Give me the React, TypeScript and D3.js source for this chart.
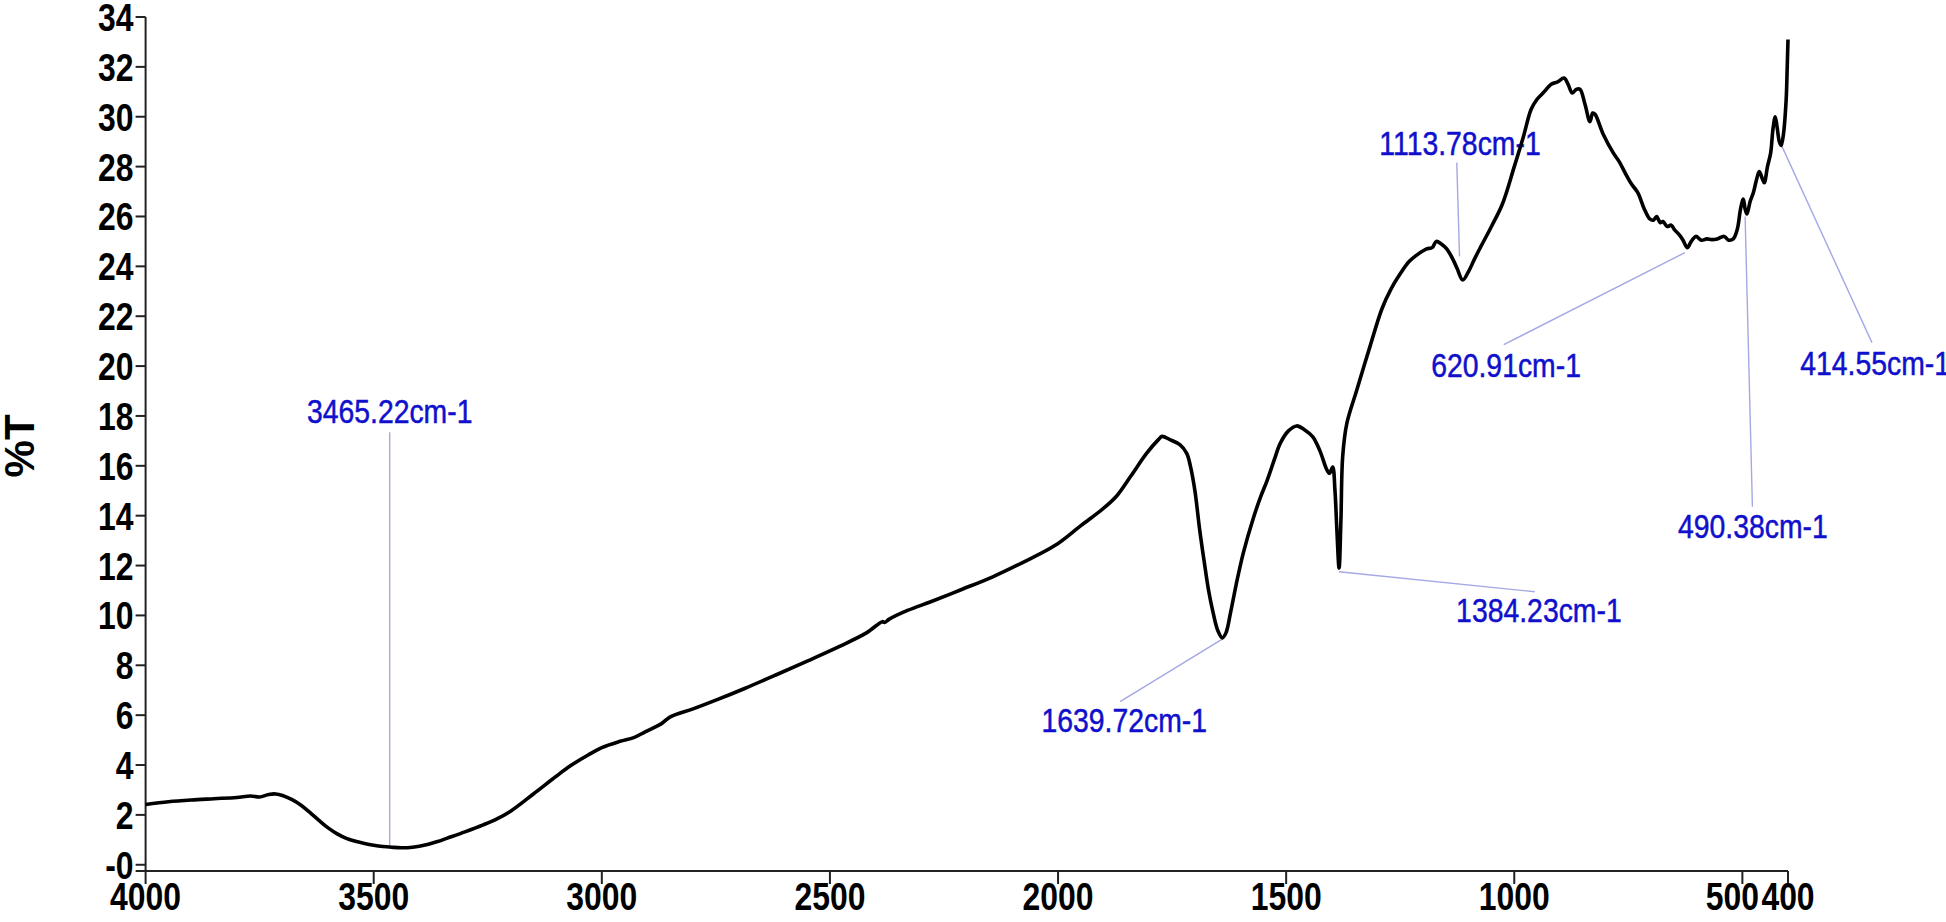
import React from 'react'
import * as d3 from 'd3'

// FTIR spectrum, wavenumber (cm-1) vs %T
const wavenumbers = [
  4000, 3950, 3900, 3850, 3800, 3770, 3750, 3730, 3715, 3700, 3680, 3660, 3640, 3620, 3600, 3580, 3560, 3540, 3520, 3500,
  3480, 3460, 3440, 3420, 3400, 3380, 3360, 3340, 3300, 3260, 3230, 3200, 3150, 3100, 3068, 3030, 3000, 2960, 2930, 2905,
  2870, 2850, 2800, 2750, 2687, 2620, 2551, 2480, 2420, 2385, 2380, 2370, 2330, 2279, 2210, 2143, 2080, 2007, 1950, 1900,
  1871, 1840, 1806, 1780, 1772, 1755, 1733, 1718, 1710, 1700, 1690, 1680, 1670, 1660, 1650, 1640, 1632, 1622, 1610, 1594,
  1572, 1555, 1542, 1525, 1513, 1495, 1477, 1460, 1442, 1426, 1411, 1405, 1398, 1393, 1389, 1384, 1380, 1376, 1367, 1345,
  1316, 1290, 1270, 1250, 1230, 1210, 1192, 1180, 1171, 1160, 1148, 1135, 1125, 1113, 1100, 1087, 1073, 1050, 1026, 1000,
  980, 963, 950, 937, 919, 905, 891, 882, 873, 864, 856, 845, 834, 828, 823, 805, 783, 770, 757, 743,
  729, 715, 703, 695, 688, 680, 674, 665, 656, 648, 640, 630, 621, 612, 602, 590, 578, 567, 555, 540,
  530, 520, 511, 504, 498, 494, 490, 483, 476, 470, 463, 456, 452, 445, 438, 433, 428, 424, 419, 415,
  410, 404, 402, 400,
]
const transmittance = [
  2.42, 2.53, 2.6, 2.65, 2.7, 2.76, 2.72, 2.82, 2.84, 2.78, 2.62, 2.4, 2.1, 1.78, 1.48, 1.24, 1.06, 0.94, 0.85, 0.78,
  0.73, 0.7, 0.68, 0.69, 0.74, 0.82, 0.93, 1.06, 1.32, 1.6, 1.84, 2.15, 2.84, 3.55, 3.98, 4.4, 4.7, 4.95, 5.1, 5.33,
  5.65, 5.93, 6.25, 6.6, 7.07, 7.6, 8.16, 8.75, 9.3, 9.75, 9.72, 9.85, 10.2, 10.55, 11.05, 11.55, 12.1, 12.8, 13.6, 14.3,
  14.8, 15.6, 16.5, 17.05, 17.18, 17.05, 16.85, 16.5, 16.0, 15.0, 13.5, 12.2, 11.0, 10.1, 9.4, 9.1, 9.3, 10.1, 11.2, 12.5,
  13.9, 14.8, 15.4, 16.3, 16.9, 17.4, 17.6, 17.45, 17.17, 16.6, 15.85, 15.7, 15.95, 15.0, 13.5, 11.9, 13.8, 16.4, 17.7, 19.05,
  20.8, 22.3, 23.1, 23.7, 24.2, 24.5, 24.7, 24.75, 25.0, 24.9, 24.7, 24.3, 23.9, 23.45, 23.8, 24.3, 24.8, 25.6, 26.5, 28.0,
  29.2, 30.3, 30.7, 30.95, 31.3, 31.4, 31.55, 31.3, 30.95, 31.1, 31.1, 30.5, 29.8, 30.15, 30.1, 29.3, 28.55, 28.2, 27.75, 27.3,
  26.95, 26.3, 25.9, 25.85, 26.0, 25.75, 25.8, 25.6, 25.65, 25.45, 25.3, 25.05, 24.75, 25.0, 25.2, 25.05, 25.1, 25.07, 25.1, 25.2,
  25.05, 25.1, 25.5, 26.3, 26.7, 26.3, 26.1, 26.6, 26.95, 27.4, 27.8, 27.5, 27.35, 28.0, 28.55, 29.5, 30.0, 29.6, 29.0, 28.85,
  29.3, 30.7, 31.8, 33.1,
]

const xTicks = [4000, 3500, 3000, 2500, 2000, 1500, 1000, 500, 400]
const yTicks = [0, 2, 4, 6, 8, 10, 12, 14, 16, 18, 20, 22, 24, 26, 28, 30, 32, 34]

// peak labels: text, peak point, leader end and label anchor (all in wavenumber / %T)
const peakLabels = ['3465.22cm-1', '1639.72cm-1', '1384.23cm-1', '1113.78cm-1', '620.91cm-1', '490.38cm-1', '414.55cm-1']
const peakWn = [3465, 1640, 1384, 1120, 626, 494, 413]
const peakT = [0.7, 9.05, 11.75, 24.4, 24.55, 26.0, 28.8]
const leaderWn = [3465, 1864, 955, 1126, 1023, 478, 216]
const leaderT = [17.35, 6.54, 10.95, 28.16, 20.86, 14.36, 20.94]
const labelWn = [3465, 1855, 946, 1119, 1018, 477, 209]
const labelT = [17.72, 5.33, 9.75, 28.48, 19.57, 13.1, 19.65]

const W = 1946
const H = 922

export default function App() {
  const x = d3.scaleLinear().domain([4000, 400]).range([145.6, 1788])
  const y = d3.scaleLinear().domain([-0.25, 34]).range([871, 17])

  const points = wavenumbers.map((w, i) => [w, transmittance[i]] as [number, number])
  const path = d3.line<[number, number]>()
    .x(d => x(d[0]))
    .y(d => y(d[1]))
    .curve(d3.curveCatmullRom.alpha(0.5))(points)

  const axisFont = "'Liberation Sans', Arial, sans-serif"
  const x0 = x(4000)
  const yBottom = y(-0.25)
  const blue = '#1010cc'

  return (
    <svg width={W} height={H} style={{ position: 'absolute', left: 0, top: 0, background: '#fff' }}
      fontFamily={axisFont}>
      {/* y axis */}
      <line x1={x0} x2={x0} y1={y(34)} y2={yBottom} stroke="#222" strokeWidth={2} />
      {yTicks.map(t => (
        <g key={'y' + t}>
          <line x1={x0 - 10} x2={x0} y1={y(t)} y2={y(t)} stroke="#222" strokeWidth={2} />
          <text transform={`translate(${x0 - 12},${y(t) + 14}) scale(0.84,1)`} textAnchor="end"
            fontSize={38} fontWeight="bold" fill="#000">{t === 0 ? '-0' : t}</text>
        </g>
      ))}
      <line x1={x0 - 10} x2={x0} y1={yBottom} y2={yBottom} stroke="#222" strokeWidth={2} />
      <text transform={`translate(34,${y(17) + 5}) rotate(-90)`} textAnchor="middle" fontSize={42}
        fontWeight="bold" fill="#000">%T</text>

      {/* x axis */}
      <line x1={x0} x2={x(400)} y1={yBottom} y2={yBottom} stroke="#222" strokeWidth={2} />
      {xTicks.map(t => (
        <g key={'x' + t}>
          <line x1={x(t)} x2={x(t)} y1={yBottom} y2={yBottom + 13} stroke="#222" strokeWidth={2} />
          <text transform={`translate(${x(t) - (t === 500 ? 10 : 0)},${yBottom + 39}) scale(0.84,1)`}
            textAnchor="middle" fontSize={38} fontWeight="bold" fill="#000">{t}</text>
        </g>
      ))}

      {/* leaders and labels */}
      {peakLabels.map((s, i) => (
        <g key={s}>
          <line x1={x(peakWn[i])} y1={y(peakT[i])} x2={x(leaderWn[i])} y2={y(leaderT[i])}
            stroke="#a4a8e4" strokeWidth={1.4} />
          <text transform={`translate(${x(labelWn[i])},${y(labelT[i])}) scale(0.86,1)`} textAnchor="middle"
            fontSize={33} fill={blue} stroke={blue} strokeWidth={0.5}>{s}</text>
        </g>
      ))}

      {/* spectrum */}
      <path d={path ?? ''} fill="none" stroke="#000" strokeWidth={3.6} strokeLinejoin="round" />
    </svg>
  )
}
